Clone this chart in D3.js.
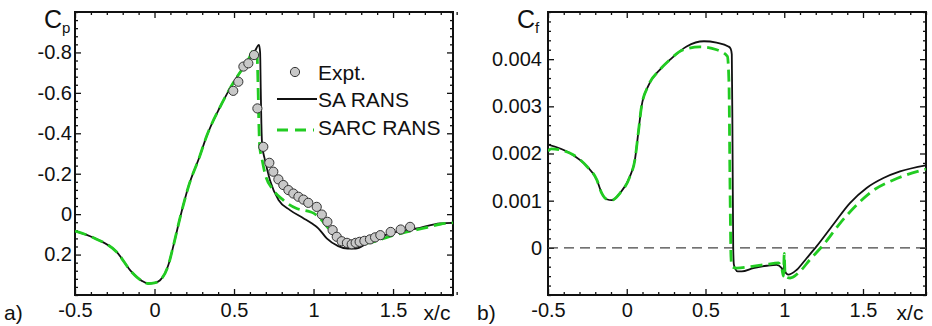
<!DOCTYPE html>
<html>
<head>
<meta charset="utf-8">
<script src="https://cdn.jsdelivr.net/npm/d3@7"></script>
<style>
  body { margin: 0; background: #fff; }
  text { font-family: "Liberation Sans", Arial, sans-serif; fill: #111; }
</style>
</head>
<body>
<div id="chart"></div>
<script>
// ---- data ----
// a) pressure coefficient
var saCpX = [-0.5, -0.374, -0.238, -0.144, -0.08, -0.039, 0.0, 0.035, 0.087, 0.117, 0.16, 0.213, 0.286, 0.325, 0.412, 0.506, 0.58, 0.63, 0.657, 0.664, 0.668, 0.672, 0.677, 0.695, 0.726, 0.78, 0.852, 0.936, 0.988, 1.03, 1.083, 1.155, 1.215, 1.265, 1.335, 1.377, 1.48, 1.586, 1.65, 1.795, 1.877];
var saCp  = [0.084, 0.12, 0.187, 0.286, 0.33, 0.343, 0.34, 0.327, 0.252, 0.162, 0.02, -0.135, -0.29, -0.38, -0.53, -0.663, -0.75, -0.805, -0.837, -0.8, -0.62, -0.45, -0.34, -0.267, -0.168, -0.07, -0.02, 0.02, 0.045, 0.07, 0.12, 0.158, 0.17, 0.17, 0.145, 0.129, 0.096, 0.079, 0.071, 0.046, 0.043];

var sarcCpX = [-0.5, -0.374, -0.238, -0.144, -0.08, -0.039, 0.0, 0.035, 0.087, 0.117, 0.16, 0.213, 0.286, 0.325, 0.412, 0.506, 0.58, 0.632, 0.645, 0.652, 0.656, 0.662, 0.674, 0.695, 0.747, 0.81, 0.894, 0.978, 1.0, 1.03, 1.104, 1.167, 1.23, 1.26, 1.3, 1.377, 1.48, 1.586, 1.7, 1.795, 1.877];
var sarcCp  = [0.084, 0.12, 0.187, 0.286, 0.33, 0.343, 0.34, 0.327, 0.252, 0.162, 0.02, -0.135, -0.29, -0.38, -0.53, -0.663, -0.75, -0.815, -0.78, -0.6, -0.45, -0.33, -0.28, -0.2, -0.119, -0.069, -0.028, -0.012, -0.005, 0.013, 0.079, 0.129, 0.153, 0.155, 0.148, 0.137, 0.11, 0.088, 0.068, 0.05, 0.043];

var exptX  = [0.495, 0.527, 0.559, 0.59, 0.626, 0.647, 0.684, 0.722, 0.747, 0.779, 0.81, 0.842, 0.873, 0.905, 0.936, 0.967, 1.02, 1.052, 1.087, 1.12, 1.146, 1.177, 1.21, 1.24, 1.265, 1.29, 1.32, 1.355, 1.387, 1.42, 1.485, 1.548, 1.607];
var exptCp = [-0.61, -0.655, -0.73, -0.746, -0.787, -0.523, -0.333, -0.254, -0.21, -0.172, -0.144, -0.119, -0.102, -0.086, -0.072, -0.056, -0.036, 0.002, 0.038, 0.079, 0.112, 0.134, 0.142, 0.149, 0.142, 0.137, 0.132, 0.125, 0.115, 0.104, 0.088, 0.076, 0.063];

// b) skin friction coefficient
var saCfX = [-0.5, -0.362, -0.254, -0.19, -0.159, -0.127, -0.095, -0.043, 0.02, 0.052, 0.073, 0.094, 0.136, 0.211, 0.275, 0.38, 0.49, 0.57, 0.645, 0.66, 0.667, 0.672, 0.676, 0.68, 0.69, 0.705, 0.73, 0.804, 0.889, 0.952, 0.984, 0.995, 1.0, 1.005, 1.025, 1.078, 1.142, 1.205, 1.31, 1.417, 1.523, 1.63, 1.735, 1.9];
var saCf  = [0.00219, 0.00201, 0.00173, 0.00144, 0.00116, 0.00103, 0.00101, 0.00116, 0.00151, 0.00187, 0.00243, 0.0030, 0.00343, 0.00378, 0.00399, 0.00427, 0.00438, 0.00435, 0.00427, 0.00422, 0.0041, 0.0020, 0.0, -0.00035, -0.00045, -0.0005, -0.0005, -0.00043, -0.00038, -0.00036, -0.00043, -0.00055, -0.0003, -0.0005, -0.00057, -0.00047, -0.00022, 0.00003, 0.00049, 0.00095, 0.00127, 0.00148, 0.00162, 0.00175];

var sarcCfX = [-0.5, -0.48, -0.362, -0.254, -0.19, -0.159, -0.127, -0.095, -0.043, 0.02, 0.052, 0.073, 0.094, 0.136, 0.211, 0.275, 0.33, 0.38, 0.465, 0.571, 0.639, 0.649, 0.655, 0.662, 0.668, 0.698, 0.783, 0.889, 0.963, 0.985, 0.995, 1.0, 1.005, 1.02, 1.037, 1.1, 1.163, 1.248, 1.354, 1.46, 1.566, 1.693, 1.9];
var sarcCf  = [0.00205, 0.0021, 0.00201, 0.00173, 0.00144, 0.00116, 0.00103, 0.00101, 0.00116, 0.00151, 0.00187, 0.00243, 0.0030, 0.00343, 0.00378, 0.00399, 0.00415, 0.00422, 0.00426, 0.0042, 0.00406, 0.0035, 0.0015, -0.0002, -0.0004, -0.00043, -0.0004, -0.00035, -0.00032, -0.00045, -0.0006, -0.00012, -0.00055, -0.00063, -0.00064, -0.0005, -0.00025, 0.00006, 0.00052, 0.00091, 0.00122, 0.00144, 0.00167];

// ticks
var xMajor = [-0.5, 0, 0.5, 1, 1.5];
var cpMajor = [-0.8, -0.6, -0.4, -0.2, 0, 0.2];
var cfMajor = [0, 0.001, 0.002, 0.003, 0.004];

var green = "#22cc22";

var svg = d3.select("#chart").append("svg")
    .attr("width", 932)
    .attr("height", 326);

function steps(a, b, step) {
    var n = Math.round((b - a) / step);
    return d3.range(n + 1).map(i => +(a + i * step).toFixed(6));
}

function drawPanel(p) {
    var x = d3.scaleLinear().domain(p.xDomain).range([p.left, p.right]);
    var y = d3.scaleLinear().domain(p.yDomain).range(p.yRange);

    var xMinor = steps(-0.5, p.xDomain[1], 0.1).filter(v => xMajor.indexOf(v) < 0);
    var yMinor = steps(p.yDomain[0], p.yDomain[1], p.yMinorStep).filter(v => !p.yMajor.some(m => Math.abs(m - v) < 1e-9));

    function axisGroup(axis, tr) {
        var g = svg.append("g").attr("transform", tr).call(axis);
        g.select(".domain").remove();
        g.selectAll("line").attr("stroke", "#111").attr("stroke-width", 1.3);
        g.selectAll("text").attr("font-size", "20px").attr("fill", "#111")
            .attr("font-family", "Liberation Sans, Arial, sans-serif");
        return g;
    }

    // bottom
    axisGroup(d3.axisBottom(x).tickValues(xMajor).tickSize(-6).tickPadding(8).tickFormat(d => String(d)),
        `translate(0,${p.bottom})`);
    axisGroup(d3.axisBottom(x).tickValues(xMinor).tickSize(-3).tickFormat(""), `translate(0,${p.bottom})`);
    // top
    axisGroup(d3.axisTop(x).tickValues(xMajor).tickSize(-6).tickFormat(""), `translate(0,${p.top})`);
    axisGroup(d3.axisTop(x).tickValues(xMinor).tickSize(-3).tickFormat(""), `translate(0,${p.top})`);
    // left
    axisGroup(d3.axisLeft(y).tickValues(p.yMajor).tickSize(-6).tickPadding(p.yPad).tickFormat(d => String(d)),
        `translate(${p.left},0)`);
    axisGroup(d3.axisLeft(y).tickValues(yMinor).tickSize(-3).tickFormat(""), `translate(${p.left},0)`);
    // right
    axisGroup(d3.axisRight(y).tickValues(p.yMajor).tickSize(-6).tickFormat(""), `translate(${p.right},0)`);
    axisGroup(d3.axisRight(y).tickValues(yMinor).tickSize(-3).tickFormat(""), `translate(${p.right},0)`);

    svg.append("rect")
        .attr("x", p.left).attr("y", p.top)
        .attr("width", p.right - p.left).attr("height", p.bottom - p.top)
        .attr("fill", "none").attr("stroke", "#111").attr("stroke-width", 2);

    var clipId = "clip-" + p.name;
    svg.append("clipPath").attr("id", clipId).append("rect")
        .attr("x", p.left).attr("y", p.top)
        .attr("width", p.right - p.left).attr("height", p.bottom - p.top);

    var plot = svg.append("g").attr("clip-path", `url(#${clipId})`);

    // axis labels
    var lab = svg.append("text").attr("x", p.left - 31).attr("y", 28).attr("font-size", "25px");
    lab.append("tspan").text("C");
    lab.append("tspan").attr("font-size", "15px").attr("dy", 5).text(p.sub);

    svg.append("text").attr("x", x(p.xDomain[1]) - 16).attr("y", p.bottom + 25)
        .attr("text-anchor", "middle").attr("font-size", "21px").text("x/c");
    svg.append("text").attr("x", p.panelX).attr("y", p.bottom + 25)
        .attr("font-size", "21px").text(p.tag);

    return { x: x, y: y, plot: plot };
}

// ---- panel a ----
var a = drawPanel({
    name: "a", left: 75, right: 453, top: 12, bottom: 295,
    xDomain: [-0.5, 1.877], yDomain: [-1.0, 0.4], yRange: [12, 295],
    yMajor: cpMajor, yMinorStep: 0.04, yPad: 3,
    sub: "p", tag: "a)", panelX: 4
});

var lineA = d3.line().x(d => a.x(d[0])).y(d => a.y(d[1])).curve(d3.curveMonotoneX);

a.plot.append("path")
    .attr("d", lineA(d3.zip(saCpX, saCp)))
    .attr("fill", "none").attr("stroke", "#111").attr("stroke-width", 1.8);

a.plot.append("path")
    .attr("d", lineA(d3.zip(sarcCpX, sarcCp)))
    .attr("fill", "none").attr("stroke", green).attr("stroke-width", 2.8)
    .attr("stroke-dasharray", "12,6");

a.plot.selectAll("circle")
    .data(d3.zip(exptX, exptCp))
    .enter()
    .append("circle")
    .attr("cx", d => a.x(d[0]))
    .attr("cy", d => a.y(d[1]))
    .attr("r", 4.6)
    .attr("fill", "#c8c8c8")
    .attr("stroke", "#333")
    .attr("stroke-width", 1);

// legend
var leg = svg.append("g");
leg.append("circle").attr("cx", 295).attr("cy", 72).attr("r", 4.6)
    .attr("fill", "#c8c8c8").attr("stroke", "#333").attr("stroke-width", 1);
leg.append("text").attr("x", 318).attr("y", 80).attr("font-size", "21px").text("Expt.");
leg.append("line").attr("x1", 277).attr("x2", 317).attr("y1", 99).attr("y2", 99)
    .attr("stroke", "#111").attr("stroke-width", 1.8);
leg.append("text").attr("x", 318).attr("y", 107).attr("font-size", "21px").text("SA RANS");
leg.append("line").attr("x1", 277).attr("x2", 314).attr("y1", 130).attr("y2", 130)
    .attr("stroke", green).attr("stroke-width", 2.8).attr("stroke-dasharray", "11,7");
leg.append("text").attr("x", 318).attr("y", 135).attr("font-size", "21px").text("SARC RANS");

// ---- panel b ----
var b = drawPanel({
    name: "b", left: 548, right: 926, top: 12, bottom: 295,
    xDomain: [-0.5, 1.9], yDomain: [-0.001, 0.005], yRange: [295, 12],
    yMajor: cfMajor, yMinorStep: 0.0002, yPad: 6,
    sub: "f", tag: "b)", panelX: 477
});

b.plot.append("line")
    .attr("x1", b.x(-0.5)).attr("x2", b.x(1.9))
    .attr("y1", b.y(0)).attr("y2", b.y(0))
    .attr("stroke", "#444").attr("stroke-width", 1.3)
    .attr("stroke-dasharray", "10,6");

var lineB = d3.line().x(d => b.x(d[0])).y(d => b.y(d[1])).curve(d3.curveMonotoneX);

b.plot.append("path")
    .attr("d", lineB(d3.zip(saCfX, saCf)))
    .attr("fill", "none").attr("stroke", "#111").attr("stroke-width", 1.8);

b.plot.append("path")
    .attr("d", lineB(d3.zip(sarcCfX, sarcCf)))
    .attr("fill", "none").attr("stroke", green).attr("stroke-width", 2.8)
    .attr("stroke-dasharray", "12,6");
</script>
</body>
</html>
